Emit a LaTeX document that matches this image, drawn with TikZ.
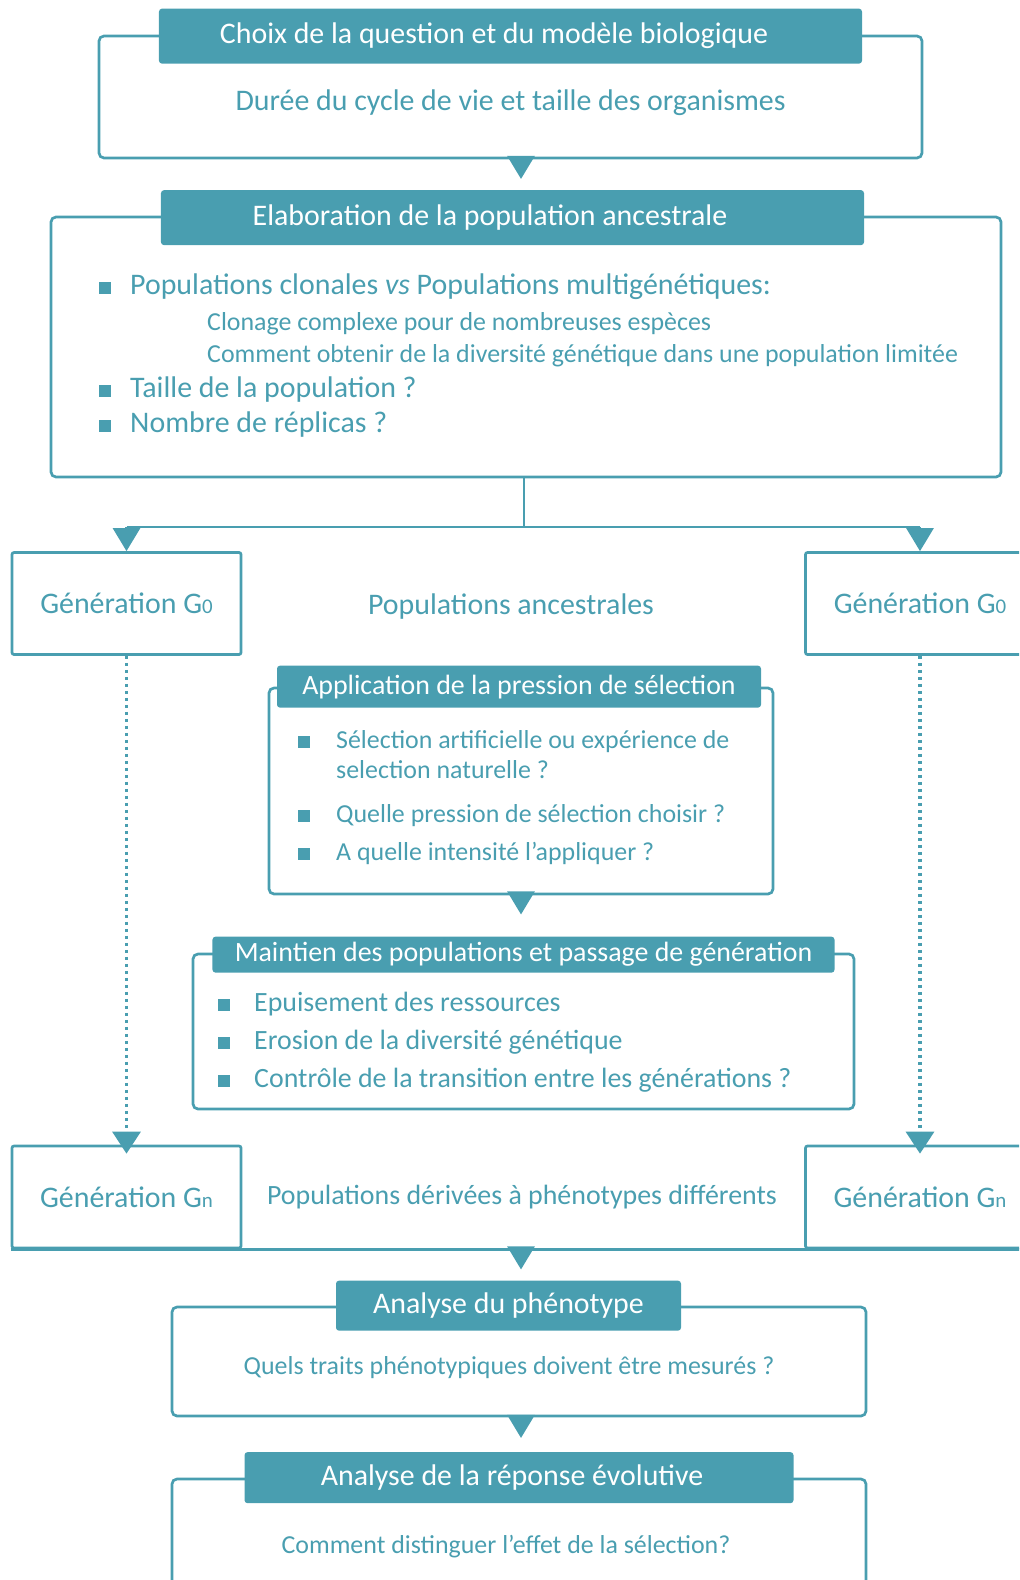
\documentclass[tikz,border=0pt]{standalone}
\usepackage{fontspec}
\setmainfont{Carlito}
\usepackage{tikz}
\usetikzlibrary{arrows.meta}
\definecolor{sarcelle}{RGB}{73,158,176}
\newcommand{\puce}{\rule{12bp}{12bp}}
\newcommand{\gen}[1]{G{\fontsize{21}{22}\selectfont #1}}

\begin{document}
\begin{tikzpicture}[x=1bp, y=-1bp,
  cadre/.style={draw=sarcelle, line width=2.7bp, rounded corners=5bp, inner sep=0pt},
  titre/.style={fill=sarcelle, rounded corners=3bp, text=white, inner sep=0pt, font=\fontsize{30}{36}\selectfont},
  soustitre/.style={titre, font=\fontsize{28}{34}\selectfont},
  corps/.style={text=sarcelle, inner sep=0pt, anchor=base, font=\fontsize{30}{36}\selectfont},
  moyen/.style={corps, font=\fontsize{28}{34}\selectfont},
  petit/.style={corps, font=\fontsize{26}{31}\selectfont},
  puceligne/.style={anchor=base west},
  generation/.style={cadre, rounded corners=2bp, minimum width=229bp, minimum height=102bp, text=sarcelle, font=\fontsize{30}{36}\selectfont},
  lien/.style={draw=sarcelle, line width=2.7bp},
  pointe/.style={lien, -{Triangle[width=27bp,length=23bp]}},
  pointille/.style={draw=sarcelle, line width=3.2bp, dash pattern=on 3.2bp off 3.8bp, -{Triangle[width=28bp,length=22bp]}, shorten >=-9bp}
]
\useasboundingbox (0,0) rectangle (1019,1580);
\clip (0,0) rectangle (1019,1580);

\node[cadre, minimum width=823bp, minimum height=122bp] (choix) at (510.5,97) {};
\node[titre, minimum width=703bp, minimum height=55bp] (choixtitre) at ([yshift=-1.5bp]choix.north) {Choix de la question et du modèle biologique\hspace*{33bp}};
\node[corps] (choixtxt) at (510.5,111) {Durée du cycle de vie et taille des organismes};

\node[cadre, minimum width=950bp, minimum height=260bp] (elab) at (526,347) {};
\node[titre, minimum width=703bp, minimum height=55bp] (elabtitre) at ([xshift=-13.5bp, yshift=-2bp]elab.north) {Elaboration de la population ancestrale\hspace*{45bp}};
\node[corps, puceligne] (clonal) at (99,294) {\puce\hspace{19bp}Populations clonales \textit{vs} Populations multigénétiques:};
\node[petit, puceligne] (clonage) at (207,330) {Clonage complexe pour de nombreuses espèces};
\node[petit, puceligne] (diversite) at (207,362) {Comment obtenir de la diversité génétique dans une population limitée};
\node[corps, puceligne] (taille) at (99,397) {\puce\hspace{19bp}Taille de la population ?};
\node[corps, puceligne] (replicas) at (99,432) {\puce\hspace{19bp}Nombre de réplicas ?};

\node[generation] (g0gauche) at (126.5,603.5) {Génération \gen{0}};
\node[generation] (g0droite) at (920,603.5) {Génération \gen{0}};
\node[corps] (ancestrales) at (511,614) {Populations ancestrales};

\node[cadre, minimum width=504bp, minimum height=206bp] (pression) at (521,791) {};
\node[soustitre, minimum width=484bp, minimum height=42bp] (pressiontitre) at ([xshift=-2bp]pression.north) {Application de la pression de sélection};
\node[petit, puceligne] (artificielle) at (298,748) {\puce\hspace{26bp}Sélection artificielle ou expérience de};
\node[petit, puceligne] (naturelle) at (336,778) {selection naturelle ?};
\node[petit, puceligne] (quelle) at (298,822) {\puce\hspace{26bp}Quelle pression de sélection choisir ?};
\node[petit, puceligne] (intensite) at (298,860) {\puce\hspace{26bp}A quelle intensité l’appliquer ?};

\node[cadre, minimum width=661bp, minimum height=155bp] (maintien) at (523.5,1031.5) {};
\node[soustitre, minimum width=622bp, minimum height=36bp] (maintientitre) at ([yshift=-2bp]maintien.north) {Maintien des populations et passage de génération};
\node[moyen, puceligne] (epuisement) at (218,1011) {\puce\hspace{24bp}Epuisement des ressources};
\node[moyen, puceligne] (erosion) at (218,1049) {\puce\hspace{24bp}Erosion de la diversité génétique};
\node[moyen, puceligne] (controle) at (218,1087) {\puce\hspace{24bp}Contrôle de la transition entre les générations ?};

\node[generation] (gngauche) at (126.5,1197) {Génération \gen{n}};
\node[generation] (gndroite) at (920,1197) {Génération \gen{n}};
\node[moyen] (derivees) at (522,1204) {Populations dérivées à phénotypes différents};

\node[cadre, minimum width=694bp, minimum height=109bp] (phenotype) at (519,1361.5) {};
\node[titre, minimum width=345bp, minimum height=50bp] (phenotypetitre) at ([xshift=-10.5bp]phenotype.north) {Analyse du phénotype};
\node[petit] (traits) at (509,1374) {Quels traits phénotypiques doivent être mesurés ?};

\node[cadre, minimum width=694bp, minimum height=170bp] (reponse) at (519,1564) {};
\node[titre, minimum width=549bp, minimum height=51bp] (reponsetitre) at (reponse.north) {Analyse de la réponse évolutive\hspace*{14bp}};
\node[petit] (distinguer) at (506,1553) {Comment distinguer l’effet de la sélection?};

\coordinate (axe) at (521,0);
\coordinate (fourche) at (524,527);

\draw[pointe, shorten >=11bp] (choix.south -| axe) -- (elabtitre.north -| axe);
\draw[lien] (elab.south -| fourche) -- (fourche);
\draw[lien] (g0gauche.north |- fourche) -- (g0droite.north |- fourche);
\draw[pointe] (g0gauche.north |- fourche) -- (g0gauche.north);
\draw[pointe] (g0droite.north |- fourche) -- (g0droite.north);
\draw[pointille] (g0gauche.south) -- (gngauche.north);
\draw[pointille] (g0droite.south) -- (gndroite.north);
\draw[pointe, shorten >=22bp] (pression.south -| axe) -- (maintientitre.north -| axe);
\draw[lien] (gngauche.south west) -- (gndroite.south east);
\draw[pointe, shorten >=11bp] (gngauche.south -| axe) -- (phenotypetitre.north -| axe);
\draw[pointe, shorten >=14bp] (phenotype.south -| axe) -- (reponsetitre.north -| axe);

\end{tikzpicture}
\end{document}
